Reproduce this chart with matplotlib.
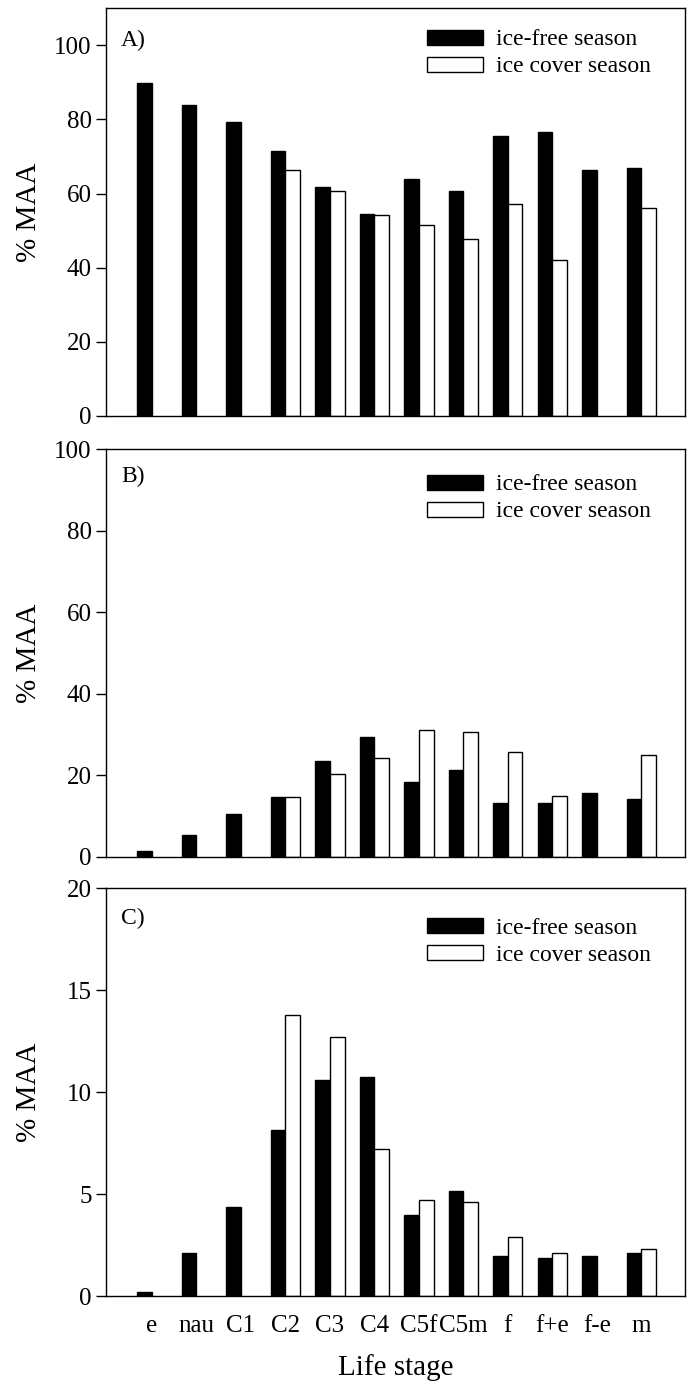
import matplotlib
matplotlib.use("Agg")
import matplotlib.pyplot as plt
import numpy as np

plt.rcParams['font.family'] = ['Liberation Serif', 'DejaVu Serif']

stages = ["e", "nau", "C1", "C2", "C3", "C4", "C5f", "C5m", "f", "f+e", "f-e", "m"]

# panel A
a_free = [89.8, 83.8, 79.4, 71.6, 61.7, 54.5, 63.9, 60.8, 75.6, 76.6, 66.3, 66.9]
a_ice = [0, 0, 0, 66.3, 60.7, 54.2, 51.5, 47.8, 57.2, 42.1, 0, 56.2]
# panel B
b_free = [1.5, 5.3, 10.5, 14.8, 23.4, 29.5, 18.4, 21.3, 13.2, 13.2, 15.6, 14.3]
b_ice = [0, 0, 0, 14.6, 20.3, 24.3, 31.0, 30.7, 25.8, 15.0, 0, 25.0]
# panel C
c_free = [0.18, 2.13, 4.35, 8.16, 10.58, 10.76, 3.96, 5.15, 1.95, 1.88, 1.98, 2.13]
c_ice = [0, 0, 0, 13.8, 12.69, 7.2, 4.69, 4.63, 2.88, 2.13, 0, 2.29]

panels = [
    ("A)", a_free, a_ice, (0, 110), np.arange(0, 101, 20), 0.948, 0.946),
    ("B)", b_free, b_ice, (0, 100), np.arange(0, 101, 20), 0.938, 0.958),
    ("C)", c_free, c_ice, (0, 20), np.arange(0, 21, 5), 0.928, 0.951),
]

fig = plt.figure(figsize=(6.89, 13.82), dpi=100)
boxes = [(0.154, 0.699, 0.840, 0.295),
         (0.154, 0.380, 0.840, 0.295),
         (0.154, 0.0622, 0.840, 0.295)]

x = np.arange(len(stages))
w = 0.33

for i, (lab, free, ice, ylim, yt, leg_y, lab_y) in enumerate(panels):
    ax = fig.add_axes(boxes[i])
    ax.bar(x - w / 2, free, w, color="black", edgecolor="black", linewidth=1,
           label="ice-free season")
    ice_h = [v if v > 0 else np.nan for v in ice]
    ax.bar(x + w / 2, ice_h, w, color="white", edgecolor="black", linewidth=1,
           label="ice cover season")
    ax.set_xlim(-1.03, 11.98)
    ax.set_ylim(*ylim)
    ax.set_yticks(yt)
    ax.tick_params(axis="y", labelsize=18, length=7, width=1, direction="out")
    ax.tick_params(axis="x", length=0)
    for s in ax.spines.values():
        s.set_linewidth(1)
    ax.set_ylabel("% MAA", fontsize=21)
    ax.yaxis.set_label_coords(-0.11, 0.5)
    ax.text(0.026, lab_y, lab, transform=ax.transAxes, fontsize=17,
            va="top", ha="left")
    ax.legend(loc="upper left", bbox_to_anchor=(0.555, leg_y), frameon=False,
              fontsize=17, handlelength=2.35, handleheight=0.6,
              handletextpad=0.55, borderpad=0, borderaxespad=0,
              labelspacing=0.25)
    if i < 2:
        ax.set_xticks([])
    else:
        ax.set_xticks(x)
        ax.set_xticklabels(stages, fontsize=18)
        ax.tick_params(axis="x", pad=14)
        ax.set_xlabel("Life stage", fontsize=21, labelpad=12)

fig.savefig("out.png", dpi=100)
